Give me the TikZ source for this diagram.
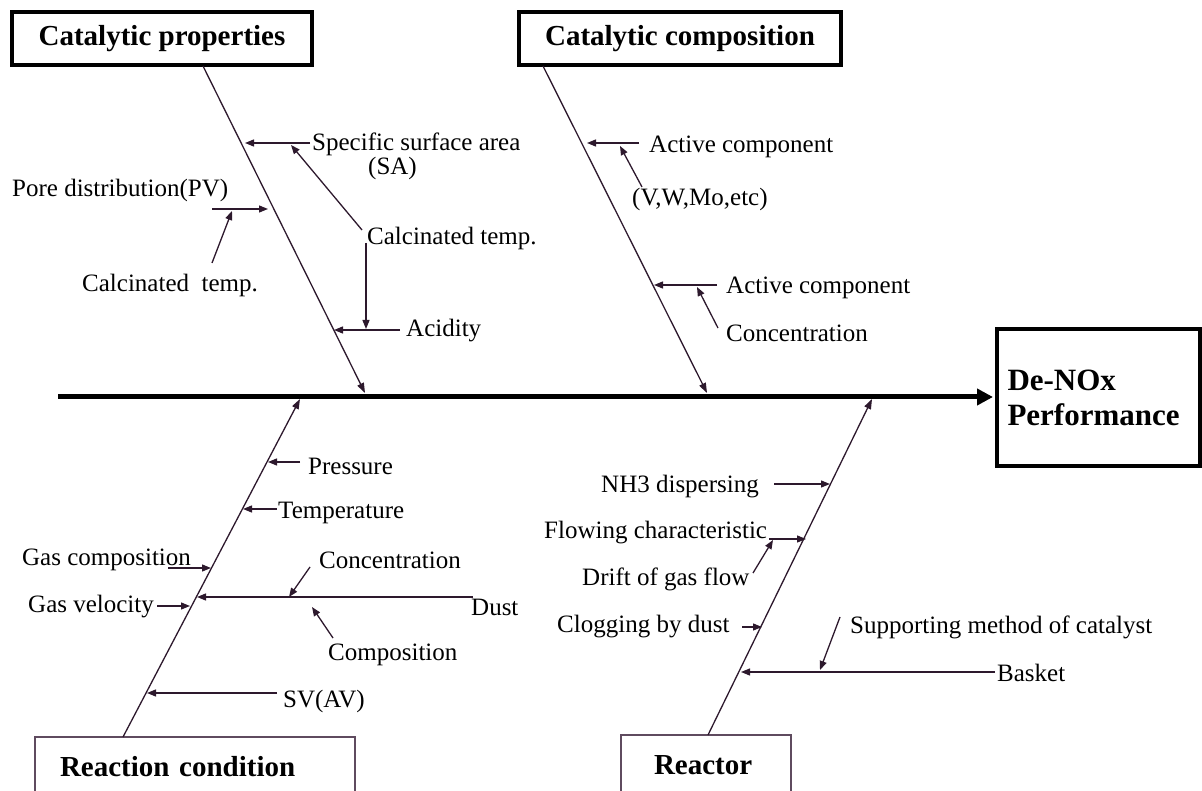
\documentclass[tikz,border=0pt]{standalone}
\usepackage{fontspec}
\setmainfont{Liberation Serif}
\usetikzlibrary{arrows.meta}
\definecolor{ln}{RGB}{45,25,45}
\definecolor{thinln}{RGB}{95,75,95}
\begin{document}
\begin{tikzpicture}[x=1pt,y=-1pt,
  lab/.style={font=\fontsize{25}{25}\selectfont, inner sep=0pt, anchor=west, text=black},
  titlebox/.style={draw=black, line width=3.5pt, font=\bfseries\fontsize{29}{29}\selectfont, inner sep=0pt, text=black},
  thinbox/.style={draw=thinln, line width=1.5pt, font=\bfseries\fontsize{29}{29}\selectfont, inner sep=0pt, text=black, align=left},
  bone/.style={draw=ln, line width=1.3pt, -{Triangle[length=10pt,width=7pt]}},
  sub/.style={draw=ln, line width=1.3pt, -{Triangle[length=9pt,width=7pt]}},
  spine/.style={draw=black, line width=5pt, -{Triangle[length=16pt,width=16pt]}}
]
\useasboundingbox (0,0) rectangle (1202,791);

% main boxes
\node[titlebox, minimum width=300, minimum height=53] (cp) at (162,38.5) {Catalytic properties};
\node[titlebox, minimum width=322, minimum height=53] (cc) at (680,38.5) {Catalytic composition};
\node[titlebox, line width=4pt, minimum width=203, minimum height=137, text width=181, align=left,
      font=\bfseries\fontsize{31}{35}\selectfont] (dn) at (1098,397.5) {De-NOx\\Performance};
\node[thinbox, minimum width=320, minimum height=60, text width=270] (rc) at (195,767) {Reaction condition};
\node[thinbox, minimum width=170, minimum height=60, text width=104] (re) at (706,765) {Reactor};

% spine
\coordinate (spL) at (58,397);
\coordinate (spR) at (993,397);
\draw[spine] (spL) -- (spR);

% bones
\coordinate (cpT) at (203,66);  \coordinate (cpE) at (365,393);
\coordinate (ccT) at (543,66);  \coordinate (ccE) at (707,393);
\coordinate (rcB) at (123,737); \coordinate (rcE) at (300,399);
\coordinate (reB) at (708,735); \coordinate (reE) at (872,399);
\draw[bone] (cpT) -- (cpE);
\draw[bone] (ccT) -- (ccE);
\draw[bone] (rcB) -- (rcE);
\draw[bone] (reB) -- (reE);

% ---- Catalytic properties
\node[lab] (ssa) at (312,144) {Specific surface area};
\node[lab] (sa) at (368,168) {(SA)};
\node[lab] (ct1) at (367,238) {Calcinated temp.};
\node[lab] (acid) at (406,331) {Acidity};
\node[lab] (pore) at (12,190) {Pore distribution(PV)};
\node[lab] (ct2) at (82,285) {Calcinated\ \ temp.};
\coordinate (a1s) at (310,143); \coordinate (a1e) at (245,143);
\coordinate (a2s) at (362,230); \coordinate (a2e) at (291,145);
\coordinate (a3s) at (366,243); \coordinate (a3e) at (366,329);
\coordinate (a4s) at (400,330); \coordinate (a4e) at (334,330);
\coordinate (a5s) at (212,209); \coordinate (a5e) at (268,209);
\coordinate (a6s) at (212,263); \coordinate (a6e) at (232,211);
\draw[sub] (a1s) -- (a1e);
\draw[sub] (a2s) -- (a2e);
\draw[sub] (a3s) -- (a3e);
\draw[sub] (a4s) -- (a4e);
\draw[sub] (a5s) -- (a5e);
\draw[sub] (a6s) -- (a6e);

% ---- Catalytic composition
\node[lab] (ac1) at (649,147) {Active component};
\node[lab] (vwm) at (632,199) {(V,W,Mo,etc)};
\node[lab] (ac2) at (726,288) {Active component};
\node[lab] (conc1) at (726,333) {Concentration};
\coordinate (b1s) at (639,143); \coordinate (b1e) at (587,143);
\coordinate (b2s) at (642,187); \coordinate (b2e) at (620,146);
\coordinate (b3s) at (717,285); \coordinate (b3e) at (654,285);
\coordinate (b4s) at (718,328); \coordinate (b4e) at (697,287);
\draw[sub] (b1s) -- (b1e);
\draw[sub] (b2s) -- (b2e);
\draw[sub] (b3s) -- (b3e);
\draw[sub] (b4s) -- (b4e);

% ---- Reaction condition
\node[lab] (pres) at (308,466) {Pressure};
\node[lab] (temp) at (278,513) {Temperature};
\node[lab] (gcomp) at (22,560) {Gas composition};
\node[lab] (dust) at (471,607) {Dust};
\node[lab] (conc2) at (319,560) {Concentration};
\node[lab] (comp) at (328,655) {Composition};
\node[lab] (gvel) at (28,607) {Gas velocity};
\node[lab] (sv) at (283,701) {SV(AV)};
\coordinate (c1s) at (300,462); \coordinate (c1e) at (268,462);
\coordinate (c2s) at (277,509); \coordinate (c2e) at (243,509);
\coordinate (c3s) at (168,568); \coordinate (c3e) at (211,568);
\coordinate (c4s) at (473,597); \coordinate (c4e) at (197,597);
\coordinate (c5s) at (310,567); \coordinate (c5e) at (289,597);
\coordinate (c6s) at (333,638); \coordinate (c6e) at (312,607);
\coordinate (c7s) at (157,606); \coordinate (c7e) at (190,606);
\coordinate (c8s) at (277,693); \coordinate (c8e) at (147,693);
\draw[sub] (c1s) -- (c1e);
\draw[sub] (c2s) -- (c2e);
\draw[sub] (c3s) -- (c3e);
\draw[sub] (c4s) -- (c4e);
\draw[sub] (c5s) -- (c5e);
\draw[sub] (c6s) -- (c6e);
\draw[sub] (c7s) -- (c7e);
\draw[sub] (c8s) -- (c8e);

% ---- Reactor
\node[lab] (nh3) at (601,487) {NH3 dispersing};
\node[lab] (flow) at (544,533) {Flowing characteristic};
\node[lab] (drift) at (582,579) {Drift of gas flow};
\node[lab] (clog) at (557,627) {Clogging by dust};
\node[lab] (bask) at (997,673) {Basket};
\node[lab] (supp) at (850,627) {Supporting method of catalyst};
\coordinate (d1s) at (774,484); \coordinate (d1e) at (830,484);
\coordinate (d2s) at (769,539); \coordinate (d2e) at (806,539);
\coordinate (d3s) at (753,573); \coordinate (d3e) at (773,540);
\coordinate (d4s) at (742,627); \coordinate (d4e) at (762,627);
\coordinate (d5s) at (995,672); \coordinate (d5e) at (741,672);
\coordinate (d6s) at (840,617); \coordinate (d6e) at (820,670);
\draw[sub] (d1s) -- (d1e);
\draw[sub] (d2s) -- (d2e);
\draw[sub] (d3s) -- (d3e);
\draw[sub] (d4s) -- (d4e);
\draw[sub] (d5s) -- (d5e);
\draw[sub] (d6s) -- (d6e);
\end{tikzpicture}
\end{document}
